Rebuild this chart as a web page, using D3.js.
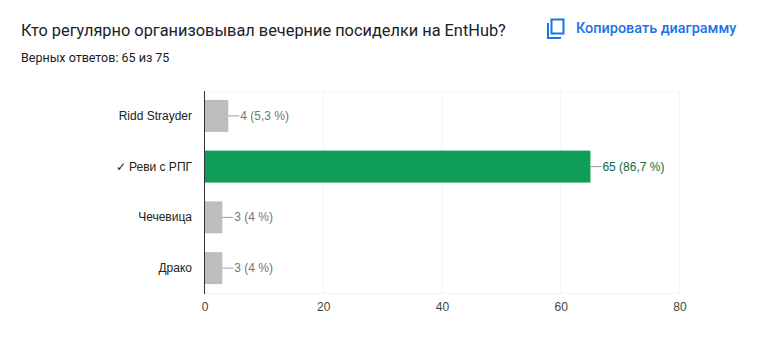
<!DOCTYPE html>
<html>
<head>
<meta charset="utf-8">
<script src="https://cdn.jsdelivr.net/npm/d3@7"></script>
<style>
  html, body { margin: 0; padding: 0; background: #fff; overflow: hidden; }
  text { font-family: Roboto, "Liberation Sans", sans-serif; }
</style>
</head>
<body>
<div id="chart"></div>
<script>
// Data
var answers = ['Ridd Strayder', '✓ Реви с РПГ', 'Чечевица', 'Драко'];
var counts = [4, 65, 3, 3];
var percents = ['5,3', '86,7', '4', '4'];
var correct = [false, true, false, false];
var xTicks = [0, 20, 40, 60, 80];
var gridTicks = [20, 40, 60, 80];

var width = 763;
var height = 352;

var svg = d3.select('#chart')
            .append('svg')
            .attr('width', width)
            .attr('height', height)
            .style('display', 'block');

var rows = answers.map(function(d, i) {
  return { name: d, count: counts[i], pct: percents[i], correct: correct[i] };
});

// Scales
var xScale = d3.scaleLinear().domain([0, 80]).range([204.5, 679.5]);
var yScale = d3.scaleBand().domain(answers).range([90.5, 293.5]).paddingInner(0.37).paddingOuter(0.185);

// Header
svg.append('text').attr('x', 21).attr('y', 36)
   .style('font-size', '16.35px').style('fill', '#202124')
   .text('Кто регулярно организовывал вечерние посиделки на EntHub?');
svg.append('text').attr('x', 21).attr('y', 62)
   .style('font-size', '12.5px').style('fill', '#202124')
   .text('Верных ответов: 65 из 75');

// Copy icon
var icon = svg.append('g').attr('transform', 'translate(544,17)');
icon.append('path')
    .attr('d', 'M4 6v15h13M7.5 2.5h12v14h-12z')
    .attr('fill', 'none')
    .attr('stroke', '#1a73e8')
    .attr('stroke-width', 2);
svg.append('text').attr('x', 576).attr('y', 33)
   .style('font-size', '14.45px').style('font-weight', 500).style('fill', '#1a73e8')
   .text('Копировать диаграмму');

// Grid
svg.selectAll('.grid')
   .data(gridTicks)
   .enter()
   .append('line')
   .attr('class', 'grid')
   .attr('x1', function(d) { return xScale(d); })
   .attr('x2', function(d) { return xScale(d); })
   .attr('y1', 91)
   .attr('y2', 294)
   .style('stroke', '#f3f3f3');
svg.append('line').attr('x1', 204).attr('x2', 680).attr('y1', 91.5).attr('y2', 91.5).style('stroke', '#f7f7f7');
svg.append('line').attr('x1', 204).attr('x2', 680).attr('y1', 293.5).attr('y2', 293.5).style('stroke', '#f3f3f3');

// Bars
svg.selectAll('.bar')
   .data(rows)
   .enter()
   .append('rect')
   .attr('class', 'bar')
   .attr('x', xScale(0))
   .attr('y', function(d) { return yScale(d.name); })
   .attr('width', function(d) { return xScale(d.count) - xScale(0); })
   .attr('height', yScale.bandwidth())
   .style('fill', function(d) { return d.correct ? '#0f9d58' : '#bdbdbd'; });

// Leader lines
svg.selectAll('.leader')
   .data(rows)
   .enter()
   .append('line')
   .attr('class', 'leader')
   .attr('x1', function(d) { return xScale(d.count); })
   .attr('x2', function(d) { return xScale(d.count) + 11; })
   .attr('y1', function(d) { return yScale(d.name) + yScale.bandwidth() / 2; })
   .attr('y2', function(d) { return yScale(d.name) + yScale.bandwidth() / 2; })
   .style('stroke', '#9e9e9e');

// Value labels
svg.selectAll('.value')
   .data(rows)
   .enter()
   .append('text')
   .attr('class', 'value')
   .attr('x', function(d) { return xScale(d.count) + 12; })
   .attr('y', function(d) { return yScale(d.name) + yScale.bandwidth() / 2 + 4; })
   .style('font-family', '"Liberation Sans", Arial, sans-serif')
   .style('font-size', '12px')
   .style('fill', function(d) { return d.correct ? '#0b6b45' : '#757575'; })
   .text(function(d) { return d.count + ' (' + d.pct + ' %)'; });

// Category labels
svg.selectAll('.cat')
   .data(rows)
   .enter()
   .append('text')
   .attr('class', 'cat')
   .attr('x', 192)
   .attr('y', function(d) { return yScale(d.name) + yScale.bandwidth() / 2 + 4; })
   .attr('text-anchor', 'end')
   .style('font-family', '"Liberation Sans", Arial, sans-serif')
   .style('font-size', '12px')
   .style('fill', '#222')
   .text(function(d) { return d.name; });

// Axis
var xAxis = d3.axisBottom(xScale).tickValues(xTicks).tickSize(0).tickPadding(0);
var axisG = svg.append('g').attr('transform', 'translate(0,301)').call(xAxis);
axisG.select('.domain').remove();
axisG.selectAll('text')
     .attr('dy', '0.8em')
     .style('font-family', '"Liberation Sans", Arial, sans-serif')
     .style('font-size', '12px')
     .style('fill', '#444');

// Baseline
svg.append('line')
   .attr('x1', xScale(0)).attr('x2', xScale(0))
   .attr('y1', 91).attr('y2', 294)
   .style('stroke', '#333');
</script>
</body>
</html>
